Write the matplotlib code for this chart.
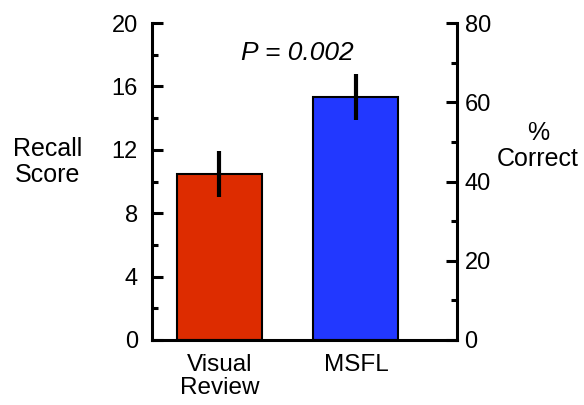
import matplotlib
matplotlib.use("Agg")
import matplotlib.pyplot as plt

plt.rcParams['font.family'] = ['Liberation Sans', 'DejaVu Sans']

# Data
GROUPS = ["Visual\nReview", "MSFL"]
RECALL = [10.5, 15.35]
ERR = [1.45, 1.45]
COLORS = ["#DD2C00", "#2238FF"]
LEFT_TICKS = [0, 4, 8, 12, 16, 20]
RIGHT_TICKS = [0, 20, 40, 60, 80]

fig = plt.figure(figsize=(5.84, 4.05), dpi=100)
ax = fig.add_axes([0.260, 0.1605, 0.5225, 0.7825])

x = range(len(GROUPS))
ax.bar(x, RECALL, width=0.623, color=COLORS, edgecolor="black", linewidth=1.5,
       yerr=ERR, error_kw=dict(ecolor="black", elinewidth=3, capsize=0), zorder=2)

ax.set_xlim(-0.4945, 1.74)
ax.set_ylim(0, 20)
ax.set_yticks(LEFT_TICKS)
ax.set_yticks([2, 6, 10, 14, 18], minor=True)
ax.set_xticks(list(x))
ax.set_xticklabels(GROUPS, fontsize=17.5, linespacing=1.05)
ax.tick_params(axis='x', length=0, pad=10)
ax.tick_params(axis='y', which='major', direction='in', length=8, width=2.2, labelsize=17, pad=10)
ax.tick_params(axis='y', which='minor', direction='in', length=4, width=2.2)

for s in ['top', 'right']:
    ax.spines[s].set_visible(False)
for s in ['left', 'bottom']:
    ax.spines[s].set_linewidth(2.2)

ax2 = ax.twinx()
ax2.set_ylim(0, 80)
ax2.set_yticks(RIGHT_TICKS)
ax2.set_yticks([10, 30, 50, 70], minor=True)
ax2.tick_params(axis='y', which='major', direction='in', length=8, width=2.2, labelsize=17, pad=5.5)
ax2.tick_params(axis='y', which='minor', direction='in', length=4, width=2.2)
for s in ['top', 'left', 'bottom']:
    ax2.spines[s].set_visible(False)
ax2.spines['right'].set_linewidth(2.2)

ax.text(0.478, 0.905, "P = 0.002", transform=ax.transAxes, ha="center", va="center",
        fontsize=19, style="italic")

fig.text(48 / 584, 1 - 162 / 405, "Recall\nScore", ha="center", va="center",
         fontsize=18, linespacing=1.15)
fig.text(538 / 584, 1 - 146 / 405, "%\nCorrect", ha="center", va="center",
         fontsize=18, linespacing=1.15)

fig.savefig("out.png", dpi=100)
